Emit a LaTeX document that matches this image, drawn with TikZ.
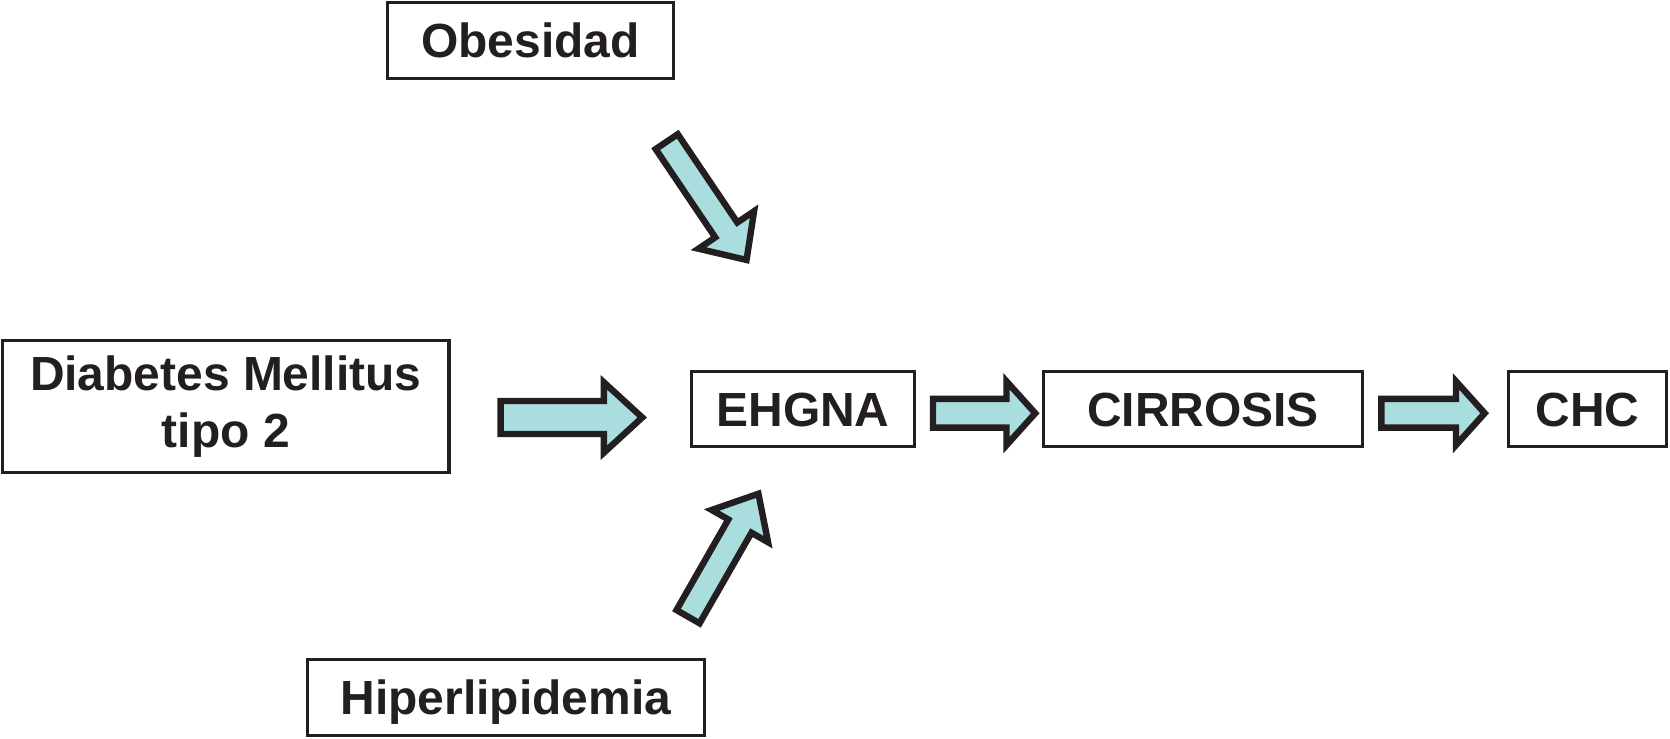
\documentclass[tikz,border=0pt]{standalone}
\usepackage{fontspec}
\setmainfont{Liberation Sans}
\definecolor{arrfill}{RGB}{170,221,222}
\definecolor{ink}{RGB}{35,31,32}
\tikzset{
  box/.style={draw=ink, line width=3pt, fill=white, inner sep=0pt,
    font=\fontsize{45}{53.6}\selectfont\bfseries, text=ink,
    minimum height=71pt},
  capbox/.style={box, text height=32.2pt, text depth=0pt},
  barrow/.style={draw=ink, fill=arrfill, line width=6pt, line join=miter, miter limit=10}
}
% x, y (tail centre), angle, length, shaft width, head width, head length
\newcommand\blockarr[7]{%
  \draw[barrow, shift={(#1,#2)}, rotate=#3]
    (0,{-#5/2}) -- ({#4-#7},{-#5/2}) -- ({#4-#7},{-#6/2}) -- (#4,0)
    -- ({#4-#7},{#6/2}) -- ({#4-#7},{#5/2}) -- (0,{#5/2}) -- cycle;}
\begin{document}
\begin{tikzpicture}[x=1pt, y=1pt]
\useasboundingbox (0,0) rectangle (1568,-693);
\node[capbox, minimum width=269pt] (ob) at (498,-38) {Obesidad};
\node[box, minimum width=419pt, minimum height=124pt, align=center] (dm) at (212,-381.5) {Diabetes Mellitus\\tipo 2};
\node[capbox, minimum width=209pt] (eh) at (754,-384) {EHGNA};
\node[capbox, minimum width=300pt] (ci) at (1129.5,-384) {CIRROSIS};
\node[capbox, minimum width=148pt] (chc) at (1490.5,-384) {CHC};
\node[capbox, minimum width=373pt] (hl) at (475,-655) {Hiperlipidemia};
% block arrows
\blockarr{470}{-392}{0}{133}{31}{66}{36}
\blockarr{876}{-388}{0}{96}{27}{60}{27}
\blockarr{1297}{-388}{0}{97}{27}{60}{27}
\blockarr{626}{-133}{-56}{134}{25}{63}{34}
\blockarr{646}{-579}{60.2}{133}{25}{61}{35}
\end{tikzpicture}
\end{document}
